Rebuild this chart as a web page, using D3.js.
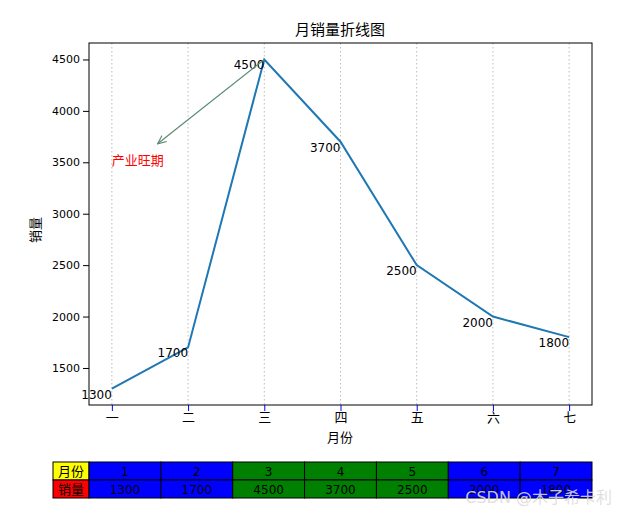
<!DOCTYPE html>
<html><head><meta charset="utf-8">
<script src="https://cdn.jsdelivr.net/npm/d3@7"></script>
<style>body{margin:0;background:#fff}text{font-family:"DejaVu Sans","Noto Sans CJK SC",sans-serif}</style>
</head><body><script>
//chart data
var months = ["一","二","三","四","五","六","七"];
var monthNums = ["1","2","3","4","5","6","7"];
var sales = [1300,1700,4500,3700,2500,2000,1800];
var cellColors = ["blue","blue","green","green","green","blue","blue"];
var yTicks = [1500,2000,2500,3000,3500,4000,4500];

var svg = d3.select("body").append("svg").attr("width",626).attr("height",516);

var x = d3.scaleLinear().domain([-0.3,6.3]).range([89,592]);
var y = d3.scaleLinear().domain([1140,4660]).range([405,43]);

//grid
svg.selectAll("line.grid").data(months).enter().append("line")
    .attr("x1",function(d,i){return x(i);}).attr("x2",function(d,i){return x(i);})
    .attr("y1",43).attr("y2",405)
    .style("stroke","#aaa").style("stroke-dasharray","1.5,2.5").style("stroke-width",0.8);

//axes
var xAxis = svg.append("g").attr("transform","translate(0,405)")
    .call(d3.axisBottom(x).tickValues(d3.range(7)).tickFormat(function(i){return months[i];}).tickSizeOuter(0));
xAxis.selectAll("line").style("stroke","blue");
xAxis.selectAll("text").style("font-size","13px").style("font-family","Noto Sans CJK SC").attr("dy","0.6em");
var yAxis = svg.append("g").attr("transform","translate(89,0)")
    .call(d3.axisLeft(y).tickValues(yTicks).tickFormat(d3.format("d")).tickSizeOuter(0));
yAxis.selectAll("text").style("font-size","11px");
svg.selectAll(".domain").remove();
svg.append("rect").attr("x",89).attr("y",43).attr("width",503).attr("height",362)
    .style("fill","none").style("stroke","black");

//line
svg.append("path").datum(sales)
    .attr("d",d3.line().x(function(d,i){return x(i);}).y(function(d){return y(d);}))
    .style("fill","none").style("stroke","#1f77b4").style("stroke-width",2);

//value labels
svg.selectAll("text.val").data(sales).enter().append("text")
    .attr("x",function(d,i){return x(i);}).attr("y",function(d){return y(d)+10;})
    .attr("text-anchor","end").style("font-size","12px").text(function(d){return d;});

//annotation
svg.append("defs").append("marker").attr("id","ah").attr("viewBox","0 0 10 10")
    .attr("refX",9).attr("refY",5).attr("markerWidth",8).attr("markerHeight",8).attr("orient","auto")
    .append("path").attr("d","M0,1L9,5L0,9").style("fill","none").style("stroke","#5a8a72").style("stroke-width",1.2);
svg.append("line").attr("x1",x(2)).attr("y1",y(4500)).attr("x2",x(0.6)).attr("y2",y(3680))
    .style("stroke","#5a8a72").style("stroke-width",1.2).attr("marker-end","url(#ah)");
svg.append("text").attr("x",x(0)).attr("y",y(3500)+3).style("fill","red").style("font-size","13px")
    .style("font-family","Noto Sans CJK SC").text("产业旺期");

//titles
svg.append("text").attr("x",340).attr("y",35).attr("text-anchor","middle").style("font-size","15px")
    .style("font-family","Noto Sans CJK SC").text("月销量折线图");
svg.append("text").attr("x",340).attr("y",442).attr("text-anchor","middle").style("font-size","13px")
    .style("font-family","Noto Sans CJK SC").text("月份");
svg.append("text").attr("transform","translate(40,230) rotate(-90)").attr("text-anchor","middle").style("font-size","13px")
    .style("font-family","Noto Sans CJK SC").text("销量");

//table
var colW = 503/7, rowH = 18, t0 = 462;
var rows = [["月份","yellow",monthNums],["销量","red",sales]];
rows.forEach(function(r,ri){
    var ty = t0+ri*rowH;
    svg.append("rect").attr("x",53).attr("y",ty).attr("width",36).attr("height",rowH)
        .style("fill",r[1]).style("stroke","black");
    svg.append("text").attr("x",71).attr("y",ty+14).attr("text-anchor","middle").style("font-size","13px")
        .style("font-family","Noto Sans CJK SC").text(r[0]);
    svg.selectAll(null).data(r[2]).enter().append("rect")
        .attr("x",function(d,i){return 89+i*colW;}).attr("y",ty).attr("width",colW).attr("height",rowH)
        .style("fill",function(d,i){return cellColors[i];}).style("stroke","black");
    svg.selectAll(null).data(r[2]).enter().append("text")
        .attr("x",function(d,i){return 89+(i+0.5)*colW;}).attr("y",ty+14)
        .attr("text-anchor","middle").style("font-size","12px").text(function(d){return d;});
});

//watermark
svg.append("text").attr("x",612).attr("y",503).attr("text-anchor","end")
    .style("font-size","16px").style("fill","rgba(220,220,220,0.9)").text("CSDN @木子希卡利");
</script></body></html>
